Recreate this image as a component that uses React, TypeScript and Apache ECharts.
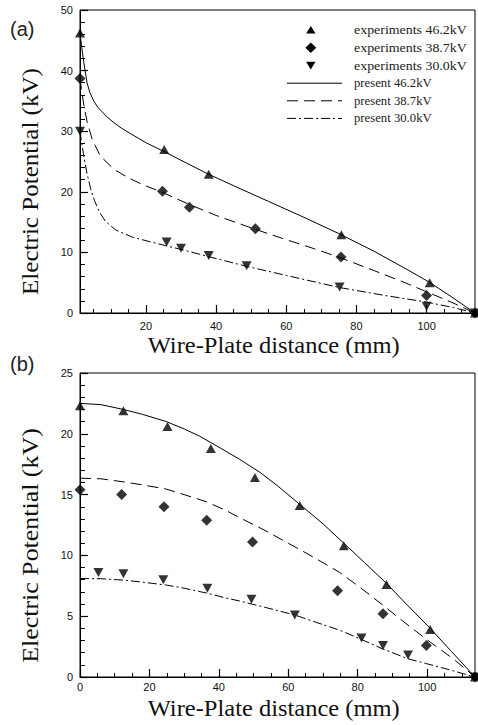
import React, { useEffect, useRef } from "react";
import * as echarts from "echarts";

// ---------- Panel (a) data ----------
const A_X_MIN = 1.2;
const X_MAX = 113.8;
const A_TRI_X = [1.2, 25.2, 37.9, 75.7, 100.9, 113.8];
const A_TRI_Y = [46.2, 27.0, 22.9, 12.9, 5.0, 0];
const A_DIA_X = [1.2, 24.7, 32.4, 51.2, 75.6, 100, 113.8];
const A_DIA_Y = [38.7, 20.1, 17.45, 13.9, 9.25, 2.9, 0];
const A_DOWN_X = [1.2, 25.9, 30, 37.9, 48.7, 75.2, 100, 113.8];
const A_DOWN_Y = [30.0, 11.7, 10.7, 9.47, 7.8, 4.3, 1.1, 0];

const A_SOLID_X = [1.2, 1.6, 2.3, 3.2, 4.0, 5.1, 6.2, 7.5, 9, 10.9, 13, 15.6, 20, 25, 30, 37.5, 45, 55, 65, 75, 85, 95, 101, 107, 113.8];
const A_SOLID_Y = [46.2, 44.3, 41.3, 38.0, 36.4, 35.0, 34.0, 33.2, 32.3, 31.4, 30.5, 29.6, 28.1, 26.7, 25.2, 23.0, 21.0, 18.4, 15.8, 13.1, 10.2, 7.0, 5.0, 2.7, 0];
const A_DASH_X = [1.2, 1.6, 2.3, 3.2, 4.7, 7.0, 10.9, 15, 19.4, 24.7, 32.4, 40, 51.2, 60, 68, 75.5, 85, 93, 100, 107, 113.8];
const A_DASH_Y = [38.7, 37.0, 34.3, 31.6, 28.6, 25.9, 23.7, 22.3, 21.1, 19.9, 17.9, 16.1, 13.8, 12.1, 10.6, 9.1, 7.0, 5.2, 3.5, 1.8, 0];
const A_DOT_X = [1.2, 1.6, 2.3, 3.2, 4.2, 5.3, 6.7, 8.5, 11.4, 16.2, 20.9, 25.7, 30, 37.9, 48.7, 60, 75.2, 88, 100, 107.6, 113.8];
const A_DOT_Y = [30.0, 28.4, 25.8, 23.0, 20.6, 18.6, 16.7, 15.1, 13.7, 12.5, 11.8, 11.1, 10.5, 9.3, 7.7, 6.2, 4.2, 2.9, 1.8, 0.9, 0];

// ---------- Panel (b) data ----------
const B_TRI_X = [0, 12.5, 25.2, 37.7, 50.4, 63.3, 76, 88.3, 100.9, 113.8];
const B_TRI_Y = [22.3, 21.9, 20.6, 18.8, 16.4, 14.1, 10.8, 7.6, 3.9, 0];
const B_DIA_X = [0, 12, 24.2, 36.5, 49.7, 74.2, 87.3, 99.8, 113.8];
const B_DIA_Y = [15.4, 15.0, 14.0, 12.9, 11.1, 7.1, 5.2, 2.6, 0];
const B_DOWN_X = [5.3, 12.5, 24, 36.7, 49.4, 61.9, 81.1, 87.3, 94.5, 113.8];
const B_DOWN_Y = [8.6, 8.5, 8.0, 7.3, 6.4, 5.1, 3.2, 2.6, 1.8, 0];

const B_SOLID_X = [0, 6, 12.5, 18, 24.9, 30, 34.5, 40, 46, 52, 57, 63.3, 70, 76, 82, 88.3, 94, 100.9, 107, 113.8];
const B_SOLID_Y = [22.5, 22.4, 22.0, 21.6, 21.0, 20.4, 19.8, 18.9, 17.9, 16.8, 15.7, 14.2, 12.6, 11.0, 9.4, 7.7, 6.0, 4.0, 2.1, 0];
const B_DASH_X = [0, 6, 12.5, 18, 24.9, 30, 36.5, 42, 46, 53, 60, 67, 74.8, 81, 87.3, 93, 99.8, 107.5, 113.8];
const B_DASH_Y = [16.35, 16.3, 16.05, 15.8, 15.45, 15.0, 14.4, 13.7, 13.1, 12.1, 11.0, 9.9, 8.6, 7.3, 5.9, 4.6, 3.1, 1.5, 0];
const B_DOT_X = [0, 6, 12.5, 18, 24.9, 30, 36.5, 42, 46, 53, 61.9, 68, 74.8, 81, 87.3, 94.5, 99.8, 107, 113.8];
const B_DOT_Y = [8.1, 8.08, 7.97, 7.8, 7.56, 7.3, 6.9, 6.5, 6.25, 5.75, 5.1, 4.5, 3.85, 3.1, 2.3, 1.5, 1.1, 0.55, 0];

// ---------- Tick / label values ----------
const A_X_LABELS = [20, 40, 60, 80, 100];
const B_X_LABELS = [0, 20, 40, 60, 80, 100];
const X_MINOR = [5, 10, 15, 20, 25, 30, 35, 40, 45, 50, 55, 60, 65, 70, 75, 80, 85, 90, 95, 100, 105, 110];
const A_Y_MAX = 50;
const A_Y_STEP = 10;
const B_Y_MAX = 25;
const B_Y_STEP = 5;

const LEGEND_LABELS = [
  "experiments 46.2kV",
  "experiments 38.7kV",
  "experiments 30.0kV",
  "present 46.2kV",
  "present 38.7kV",
  "present 30.0kV",
];
const X_TITLE = "Wire-Plate distance (mm)";
const Y_TITLE = "Electric Potential (kV)";

const zip = (xs: number[], ys: number[]) => xs.map((x, i) => [x, ys[i]]);

const TICK_FONT = "Liberation Sans";
const SERIF = "Liberation Serif";
const DASHED = [11, 6];
const DASHDOT = [9, 3, 2, 3];

function majorX(gridIndex: number, min: number, labels: number[], margin: number) {
  return {
    type: "value",
    gridIndex,
    min,
    max: X_MAX,
    position: "bottom",
    axisLine: { show: true, onZero: false, lineStyle: { color: "#000", width: 1 } },
    axisTick: { show: true, inside: true, length: 8, customValues: labels, lineStyle: { color: "#000", width: 1.2 } },
    axisLabel: { show: true, customValues: labels, fontSize: 11, fontFamily: TICK_FONT, color: "#111", margin },
    splitLine: { show: false },
  };
}
function minorX(gridIndex: number, min: number) {
  return {
    type: "value",
    gridIndex,
    min,
    max: X_MAX,
    position: "bottom",
    axisLine: { show: false, onZero: false },
    axisTick: { show: true, inside: true, length: 4, customValues: X_MINOR, lineStyle: { color: "#000", width: 1 } },
    axisLabel: { show: false },
    splitLine: { show: false },
  };
}
function yAx(gridIndex: number, max: number, interval: number) {
  return {
    type: "value",
    gridIndex,
    min: 0,
    max,
    interval,
    axisLine: { show: true, onZero: false, lineStyle: { color: "#000", width: 1 } },
    axisTick: { show: true, inside: true, length: 8, lineStyle: { color: "#000", width: 1.2 } },
    minorTick: { show: true, splitNumber: 5, length: 5, lineStyle: { color: "#000", width: 1 } },
    axisLabel: { fontSize: 11, fontFamily: TICK_FONT, color: "#111", margin: 7 },
    splitLine: { show: false },
    minorSplitLine: { show: false },
  };
}

function scatter(name: string, xIdx: number, yIdx: number, data: number[][], symbol: string, size: number[], rotate = 0) {
  return {
    name,
    type: "scatter",
    xAxisIndex: xIdx,
    yAxisIndex: yIdx,
    data,
    symbol,
    symbolSize: size,
    symbolRotate: rotate,
    clip: false,
    itemStyle: { color: "#000" },
    z: 4,
  };
}
function curve(name: string, xIdx: number, yIdx: number, data: number[][], type: any) {
  return {
    name,
    type: "line",
    xAxisIndex: xIdx,
    yAxisIndex: yIdx,
    data,
    symbol: "none",
    smooth: false,
    lineStyle: { color: "#000", width: 1, type },
    z: 3,
  };
}

function legendGraphics() {
  const rows = [30, 47.8, 65.4, 83.2, 100.8, 118.4];
  const cx = 310.8;
  const els: any[] = [];
  els.push({ type: "polygon", shape: { points: [[cx - 4.7, rows[0] + 3.6], [cx + 4.7, rows[0] + 3.6], [cx, rows[0] - 4]] }, style: { fill: "#000" } });
  els.push({ type: "polygon", shape: { points: [[cx, rows[1] - 5.2], [cx + 5.4, rows[1]], [cx, rows[1] + 5.2], [cx - 5.4, rows[1]]] }, style: { fill: "#000" } });
  els.push({ type: "polygon", shape: { points: [[cx - 4.7, rows[2] - 3.6], [cx + 4.7, rows[2] - 3.6], [cx, rows[2] + 4]] }, style: { fill: "#000" } });
  const dashes = [null, DASHED, DASHDOT];
  for (let i = 0; i < 3; i++) {
    const y = rows[3 + i];
    els.push({
      type: "line",
      shape: { x1: 287, y1: y, x2: 342, y2: y },
      style: { stroke: "#000", lineWidth: 1, lineDash: dashes[i] },
    });
  }
  LEGEND_LABELS.forEach((t, i) => {
    els.push({
      type: "text",
      x: 354,
      y: rows[i],
      scaleX: i < 3 ? 1.16 : 1.06,
      style: {
        text: t,
        fontSize: 12,
        fontFamily: SERIF,
        fill: "#222",
        align: "left",
        verticalAlign: "middle",
        textAlign: "left",
        textVerticalAlign: "middle",
      },
    });
  });
  return els;
}

function titleText(text: string, x: number, y: number, fontSize: number, scaleX: number, rotation = 0) {
  return {
    type: "text",
    x,
    y,
    rotation,
    scaleX,
    style: {
      text,
      fontSize,
      fontFamily: SERIF,
      fill: "#111",
      align: "center",
      verticalAlign: "middle",
      textAlign: "center",
      textVerticalAlign: "middle",
    },
  };
}

export default function App() {
  const ref = useRef<HTMLDivElement>(null);
  useEffect(() => {
    if (!ref.current) return;
    const chart = echarts.init(ref.current, null, { renderer: "svg" });
    const option: any = {
      animation: false,
      backgroundColor: "#fff",
      grid: [
        { left: 80, right: 3, top: 10, height: 303, show: true, borderColor: "#000", borderWidth: 1, outerBoundsMode: "none" },
        { left: 80, right: 3, top: 373, height: 304, show: true, borderColor: "#000", borderWidth: 1, outerBoundsMode: "none" },
      ],
      xAxis: [
        majorX(0, A_X_MIN, A_X_LABELS, 7),
        minorX(0, A_X_MIN),
        majorX(1, 0, B_X_LABELS, 4),
        minorX(1, 0),
      ],
      yAxis: [yAx(0, A_Y_MAX, A_Y_STEP), yAx(1, B_Y_MAX, B_Y_STEP)],
      series: [
        curve("present 46.2kV", 0, 0, zip(A_SOLID_X, A_SOLID_Y), "solid"),
        curve("present 38.7kV", 0, 0, zip(A_DASH_X, A_DASH_Y), DASHED),
        curve("present 30.0kV", 0, 0, zip(A_DOT_X, A_DOT_Y), DASHDOT),
        scatter("experiments 46.2kV", 0, 0, zip(A_TRI_X, A_TRI_Y), "triangle", [10, 9]),
        scatter("experiments 38.7kV", 0, 0, zip(A_DIA_X, A_DIA_Y), "diamond", [11, 11]),
        scatter("experiments 30.0kV", 0, 0, zip(A_DOWN_X, A_DOWN_Y), "triangle", [10, 9], 180),
        curve("b present 46.2kV", 2, 1, zip(B_SOLID_X, B_SOLID_Y), "solid"),
        curve("b present 38.7kV", 2, 1, zip(B_DASH_X, B_DASH_Y), DASHED),
        curve("b present 30.0kV", 2, 1, zip(B_DOT_X, B_DOT_Y), DASHDOT),
        scatter("b experiments 46.2kV", 2, 1, zip(B_TRI_X, B_TRI_Y), "triangle", [10, 9]),
        scatter("b experiments 38.7kV", 2, 1, zip(B_DIA_X, B_DIA_Y), "diamond", [11, 11]),
        scatter("b experiments 30.0kV", 2, 1, zip(B_DOWN_X, B_DOWN_Y), "triangle", [10, 9], 180),
      ],
      graphic: [
        ...legendGraphics(),
        titleText(X_TITLE, 273.7, 345, 23, 1.065),
        titleText(X_TITLE, 273.7, 708.6, 23, 1.065),
        titleText(Y_TITLE, 30, 181.5, 24, 1.045, Math.PI / 2),
        titleText(Y_TITLE, 30, 545.5, 24, 1.08, Math.PI / 2),
        {
          type: "text",
          x: 10,
          y: 28.5,
          style: { text: "(a)", fontSize: 20, fontFamily: TICK_FONT, fill: "#222", align: "left", verticalAlign: "middle", textAlign: "left", textVerticalAlign: "middle" },
        },
        {
          type: "text",
          x: 10,
          y: 364,
          style: { text: "(b)", fontSize: 20, fontFamily: TICK_FONT, fill: "#222", align: "left", verticalAlign: "middle", textAlign: "left", textVerticalAlign: "middle" },
        },
      ],
    };
    chart.setOption(option);
    return () => chart.dispose();
  }, []);
  return (
    <div
      ref={ref}
      style={{ position: "absolute", left: 0, top: 0, width: 478, height: 725, background: "#fff" }}
    />
  );
}
